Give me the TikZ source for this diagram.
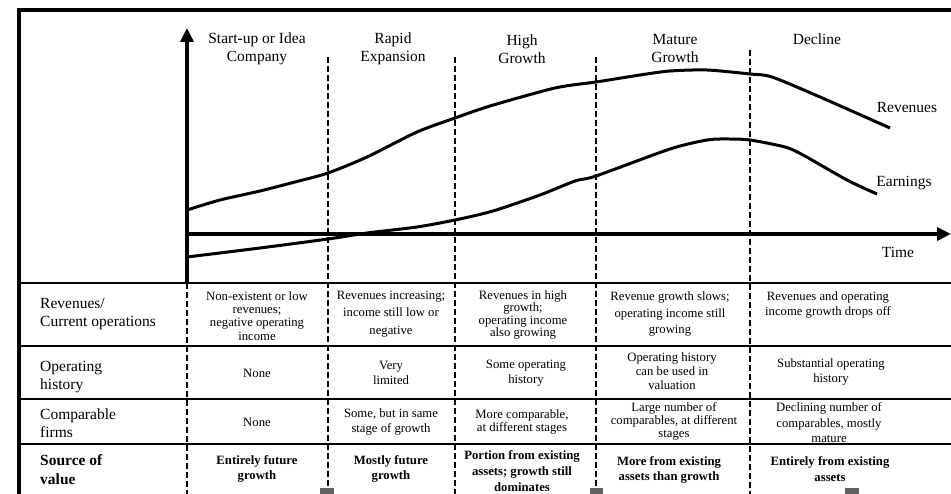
\documentclass[tikz,border=0pt]{standalone}
\usepackage{fontspec}
\setmainfont{Liberation Serif}
\usetikzlibrary{arrows.meta}
\tikzset{
  frame/.style={line width=4pt},
  axis/.style={line width=4.5pt,-{Triangle[length=14pt,width=13pt]}},
  curve/.style={line width=3pt,line join=round,smooth,tension=0.45},
  rule/.style={line width=2pt},
  divider/.style={line width=1.3pt,dash pattern=on 6pt off 3pt},
  head/.style={align=center,font=\fontsize{15.5}{18}\selectfont,inner sep=0pt},
  rowlabel/.style={align=left,anchor=west,font=\fontsize{15.5}{18.5}\selectfont,inner sep=0pt},
  cell/.style={align=center,font=\fontsize{12.7}{15.5}\selectfont,inner sep=0pt},
  tight/.style={font=\fontsize{12.7}{13.2}\selectfont},
  wide/.style={font=\fontsize{12.7}{17.5}\selectfont},
  boldcell/.style={cell,font=\fontsize{12.7}{15.5}\selectfont\bfseries},
  marker/.style={fill=black!62,draw=none}
}
\begin{document}
\begin{tikzpicture}[x=1pt,y=-1pt]
\useasboundingbox (0,0) rectangle (951,494);

% outer frame (open to the right and bottom)
\draw[frame] (18.5,520) -- (18.5,10) -- (960,10);

% axes
\coordinate (origin) at (187,234);
\coordinate (ybase) at (187,283);
\coordinate (ytip) at (187,28);
\coordinate (xtip) at (951,234);
\draw[axis] (ybase) -- (ytip);
\draw[axis] (origin) -- (xtip);

% stage dividers
\foreach \x/\t in {328/57,455/57,596/57,750/50}
  \draw[divider] (\x,\t) -- (\x,494);
\draw[divider] (187,283) -- (187,494);

% table rules
\foreach \y in {283,346,399,444}
  \draw[rule] (18,\y) -- (951,\y);

% revenue and earnings curves
\draw[curve] plot coordinates {(187,210) (220,200) (260,191) (295,182) (328,173)
  (367,157) (417,132) (455,118) (490,106) (555,88) (596,82) (640,75) (670,71)
  (707,70) (750,74) (772,77) (820,97) (890,128)};
\draw[curve] plot coordinates {(187,257) (260,248) (328,239) (367,233) (417,227)
  (455,220) (493,211) (540,195) (575,181) (596,176) (670,149) (707,140)
  (727,139) (750,140) (785,147) (803,155) (847,180) (877,194)};

% stage titles
\node[head] (h1) at (257,49) {Start-up or Idea\\Company};
\node[head] (h2) at (393,49) {Rapid\\Expansion};
\node[head] (h3) at (522,49) {High\\Growth};
\node[head] (h4) at (675,49) {Mature\\Growth};
\node[head] (h5) at (817,39) {Decline};

% curve and axis labels
\node[head] (lrev) at (907,108) {Revenues};
\node[head] (learn) at (904,183) {Earnings};
\node[head] (ltime) at (898,252) {Time};

% row labels
\node[rowlabel] (r1) at (40,314) {Revenues/\\Current operations};
\node[rowlabel] (r2) at (40,377) {Operating\\history};
\node[rowlabel] (r3) at (40,423) {Comparable\\firms};
\node[rowlabel,font=\fontsize{15.5}{19}\selectfont\bfseries] (r4) at (40,470) {Source of\\value};

% row 1: revenues / current operations
\node[cell,tight] (c11) at (257,316) {Non-existent or low\\revenues;\\negative operating\\income};
\node[cell,wide] (c12) at (391,314) {Revenues increasing;\\income still low or\\negative};
\node[cell,tight,font=\fontsize{12.7}{12.6}\selectfont] (c13) at (523,315) {Revenues in high\\growth;\\operating income\\also growing};
\node[cell,font=\fontsize{12.7}{16.5}\selectfont] (c14) at (670,314) {Revenue growth slows;\\operating income still\\growing};
\node[cell] (c15) at (828,305) {Revenues and operating\\income growth drops off};

% row 2: operating history
\node[cell] (c21) at (257,373) {None};
\node[cell] (c22) at (391,373) {Very\\limited};
\node[cell] (c23) at (526,373) {Some operating\\history};
\node[cell,font=\fontsize{12.7}{14}\selectfont] (c24) at (672,371) {Operating history\\can be used in\\valuation};
\node[cell] (c25) at (831,372) {Substantial operating\\history};

% row 3: comparable firms
\node[cell] (c31) at (257,422) {None};
\node[cell] (c32) at (391,422) {Some, but in same\\stage of growth};
\node[cell,font=\fontsize{12.7}{13.5}\selectfont] (c33) at (522,422) {More comparable,\\at different stages};
\node[cell,font=\fontsize{12.7}{13}\selectfont] (c34) at (674,421) {Large number of\\comparables, at different\\stages};
\node[cell] (c35) at (829,423) {Declining number of\\comparables, mostly\\mature};

% row 4: source of value
\node[boldcell] (c41) at (257,469) {Entirely future\\growth};
\node[boldcell] (c42) at (391,469) {Mostly future\\growth};
\node[boldcell,font=\fontsize{12.7}{16}\selectfont\bfseries] (c43) at (522,471) {Portion from existing\\assets; growth still\\dominates};
\node[boldcell] (c44) at (669,470) {More from existing\\assets than growth};
\node[boldcell] (c45) at (830,469) {Entirely from existing\\assets};

% small marks at the lower edge
\fill[marker] (320,488) rectangle (334,494);
\fill[marker] (590,488) rectangle (603,494);
\fill[marker] (845,488) rectangle (859,494);
\end{tikzpicture}
\end{document}
